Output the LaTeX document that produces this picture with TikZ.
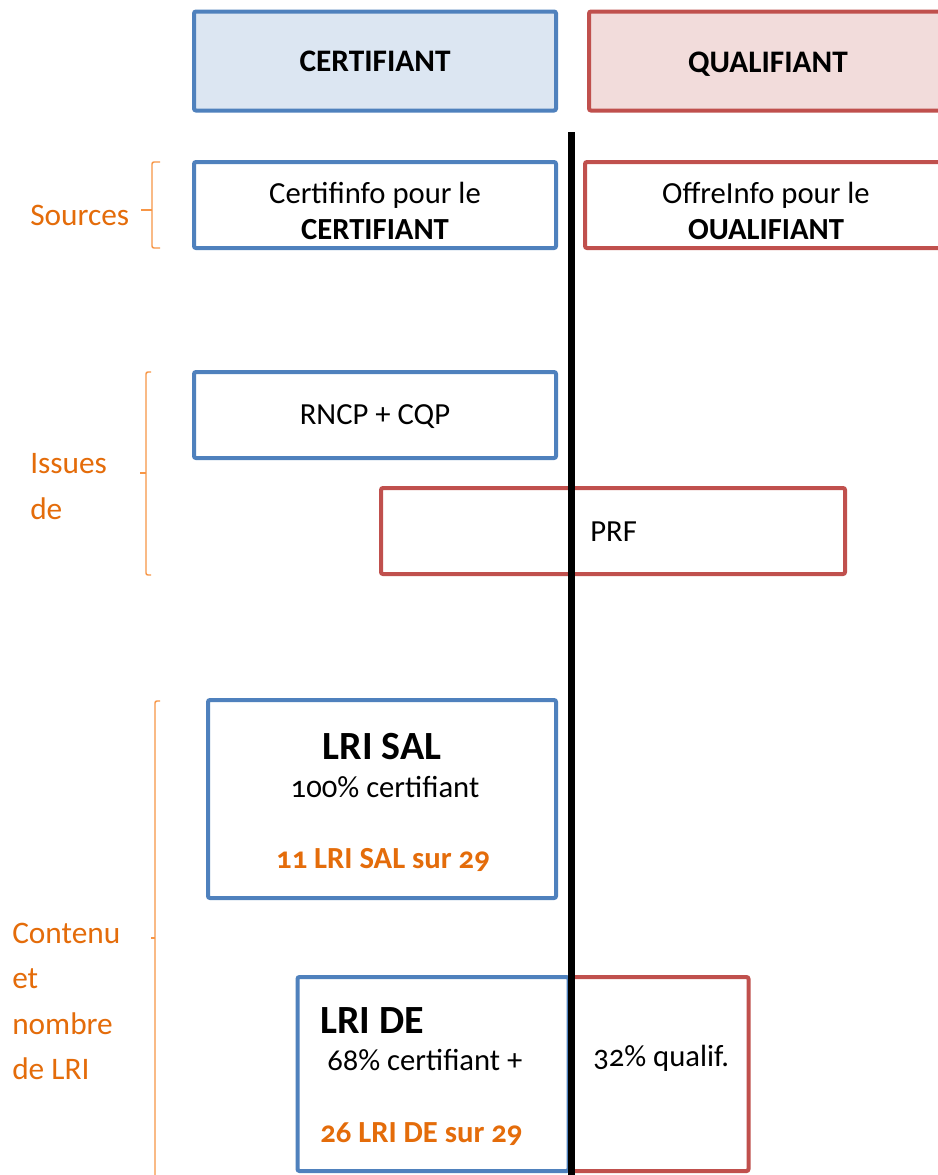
\documentclass[tikz,border=0pt]{standalone}
\usepackage{fontspec}
\setmainfont{Carlito}[Numbers=OldStyle]
\definecolor{bblue}{HTML}{4F81BD}
\definecolor{bfill}{HTML}{DCE6F2}
\definecolor{rred}{HTML}{C0504D}
\definecolor{rfill}{HTML}{F2DCDB}
\definecolor{otext}{HTML}{E46C0A}
\definecolor{obrace}{HTML}{F79646}
\def\u{0.75pt}
\tikzset{
  bbox/.style={draw=bblue, line width=3pt, rounded corners=1.5pt, inner sep=0pt},
  rbox/.style={draw=rred, line width=3pt, rounded corners=1.5pt, inner sep=0pt},
  txt/.style={inner sep=0pt, font=\fontsize{23}{27}\selectfont, align=center},
  lbl/.style={inner sep=0pt, anchor=west, text=otext, font=\fontsize{23.5}{27}\selectfont},
  big/.style={inner sep=0pt, font=\fontsize{30}{34}\selectfont\bfseries},
  otxt/.style={inner sep=0pt, text=otext, font=\fontsize{23}{27}\selectfont\bfseries},
  brace/.style={draw=obrace, line width=1.1pt, rounded corners=1.5pt},
  divider/.style={line width=5.25pt, black}
}
\begin{document}
\begin{tikzpicture}[x=0.75pt, y=-0.75pt]
\clip (0,0) rectangle (938,1175);
\fill[white] (0,0) rectangle (938,1175);

% headers
\node[bbox, fill=bfill, minimum width=362*\u, minimum height=99*\u] (hc) at (375,61) {};
\node[txt, font=\fontsize{23.5}{27}\selectfont\bfseries] (hct) at (375,61) {CERTIFIANT};
\node[rbox, fill=rfill, minimum width=358*\u, minimum height=99*\u] (hq) at (768,61) {};
\node[txt, font=\fontsize{23.5}{27}\selectfont\bfseries] (hqt) at (768,64) {QUALIFIANT};

% sources
\node[bbox, minimum width=362*\u, minimum height=86*\u] (sc) at (375,205) {};
\node[txt] (sct) at (375,211) {Certifinfo pour le\\\textbf{CERTIFIANT}};
\node[rbox, minimum width=364*\u, minimum height=86*\u] (sq) at (767,205) {};
\node[txt] (sqt) at (766,211) {OffreInfo pour le\\\textbf{OUALIFIANT}};

% issues
\node[bbox, minimum width=362*\u, minimum height=86*\u] (rn) at (375,415) {};
\node[txt] (rnt) at (375,417) {RNCP + CQP};
\node[rbox, minimum width=464*\u, minimum height=86*\u] (prf) at (613,531) {};
\node[txt, anchor=west] (prft) at (590,532) {PRF};

% contenu
\node[bbox, minimum width=348*\u, minimum height=198*\u] (sal) at (382,799) {};
\node[big] (salh) at (382,747) {LRI SAL};
\node[txt] (salp) at (385,787) {100\% certifiant};
\node[otxt] (saln) at (383,860) {11 LRI SAL sur 29};

\node[bbox, minimum width=271*\u, minimum height=194*\u] (de) at (433,1074) {};
\node[rbox, minimum width=177*\u, minimum height=194*\u] (ql) at (660,1074) {};
\node[big, anchor=west] (deh) at (320,1021) {LRI DE};
\node[txt, anchor=west] (dep) at (327,1060) {68\% certifiant +};
\node[otxt, anchor=west] (den) at (320,1134) {26 LRI DE sur 29};
\node[txt, anchor=west] (qlt) at (593,1058) {32\% qualif.};

% divider
\coordinate (vt) at (571,132);
\coordinate (vb) at (571,1185);
\draw[divider] (vt) -- (vb);

% labels
\node[lbl] (l1) at (30,215) {Sources};
\node[lbl] (l2) at (30,464) {Issues};
\node[lbl] (l3) at (30,509) {de};
\node[lbl] (l4) at (12,933) {Contenu};
\node[lbl] (l5) at (12,979) {et};
\node[lbl] (l6) at (12,1024) {nombre};
\node[lbl] (l7) at (12,1069) {de LRI};

% braces
\draw[brace] (160,162) -- (152,162) -- (152,248) -- (160,248);
\draw[brace] (152,210) -- (141,210);
\draw[brace] (151,372) -- (146,372) -- (146,575) -- (151,575);
\draw[brace] (146,473) -- (140,473);
\draw[brace] (160,701) -- (155,701) -- (155,1180);
\draw[brace] (155,938) -- (151,938);
\end{tikzpicture}
\end{document}
